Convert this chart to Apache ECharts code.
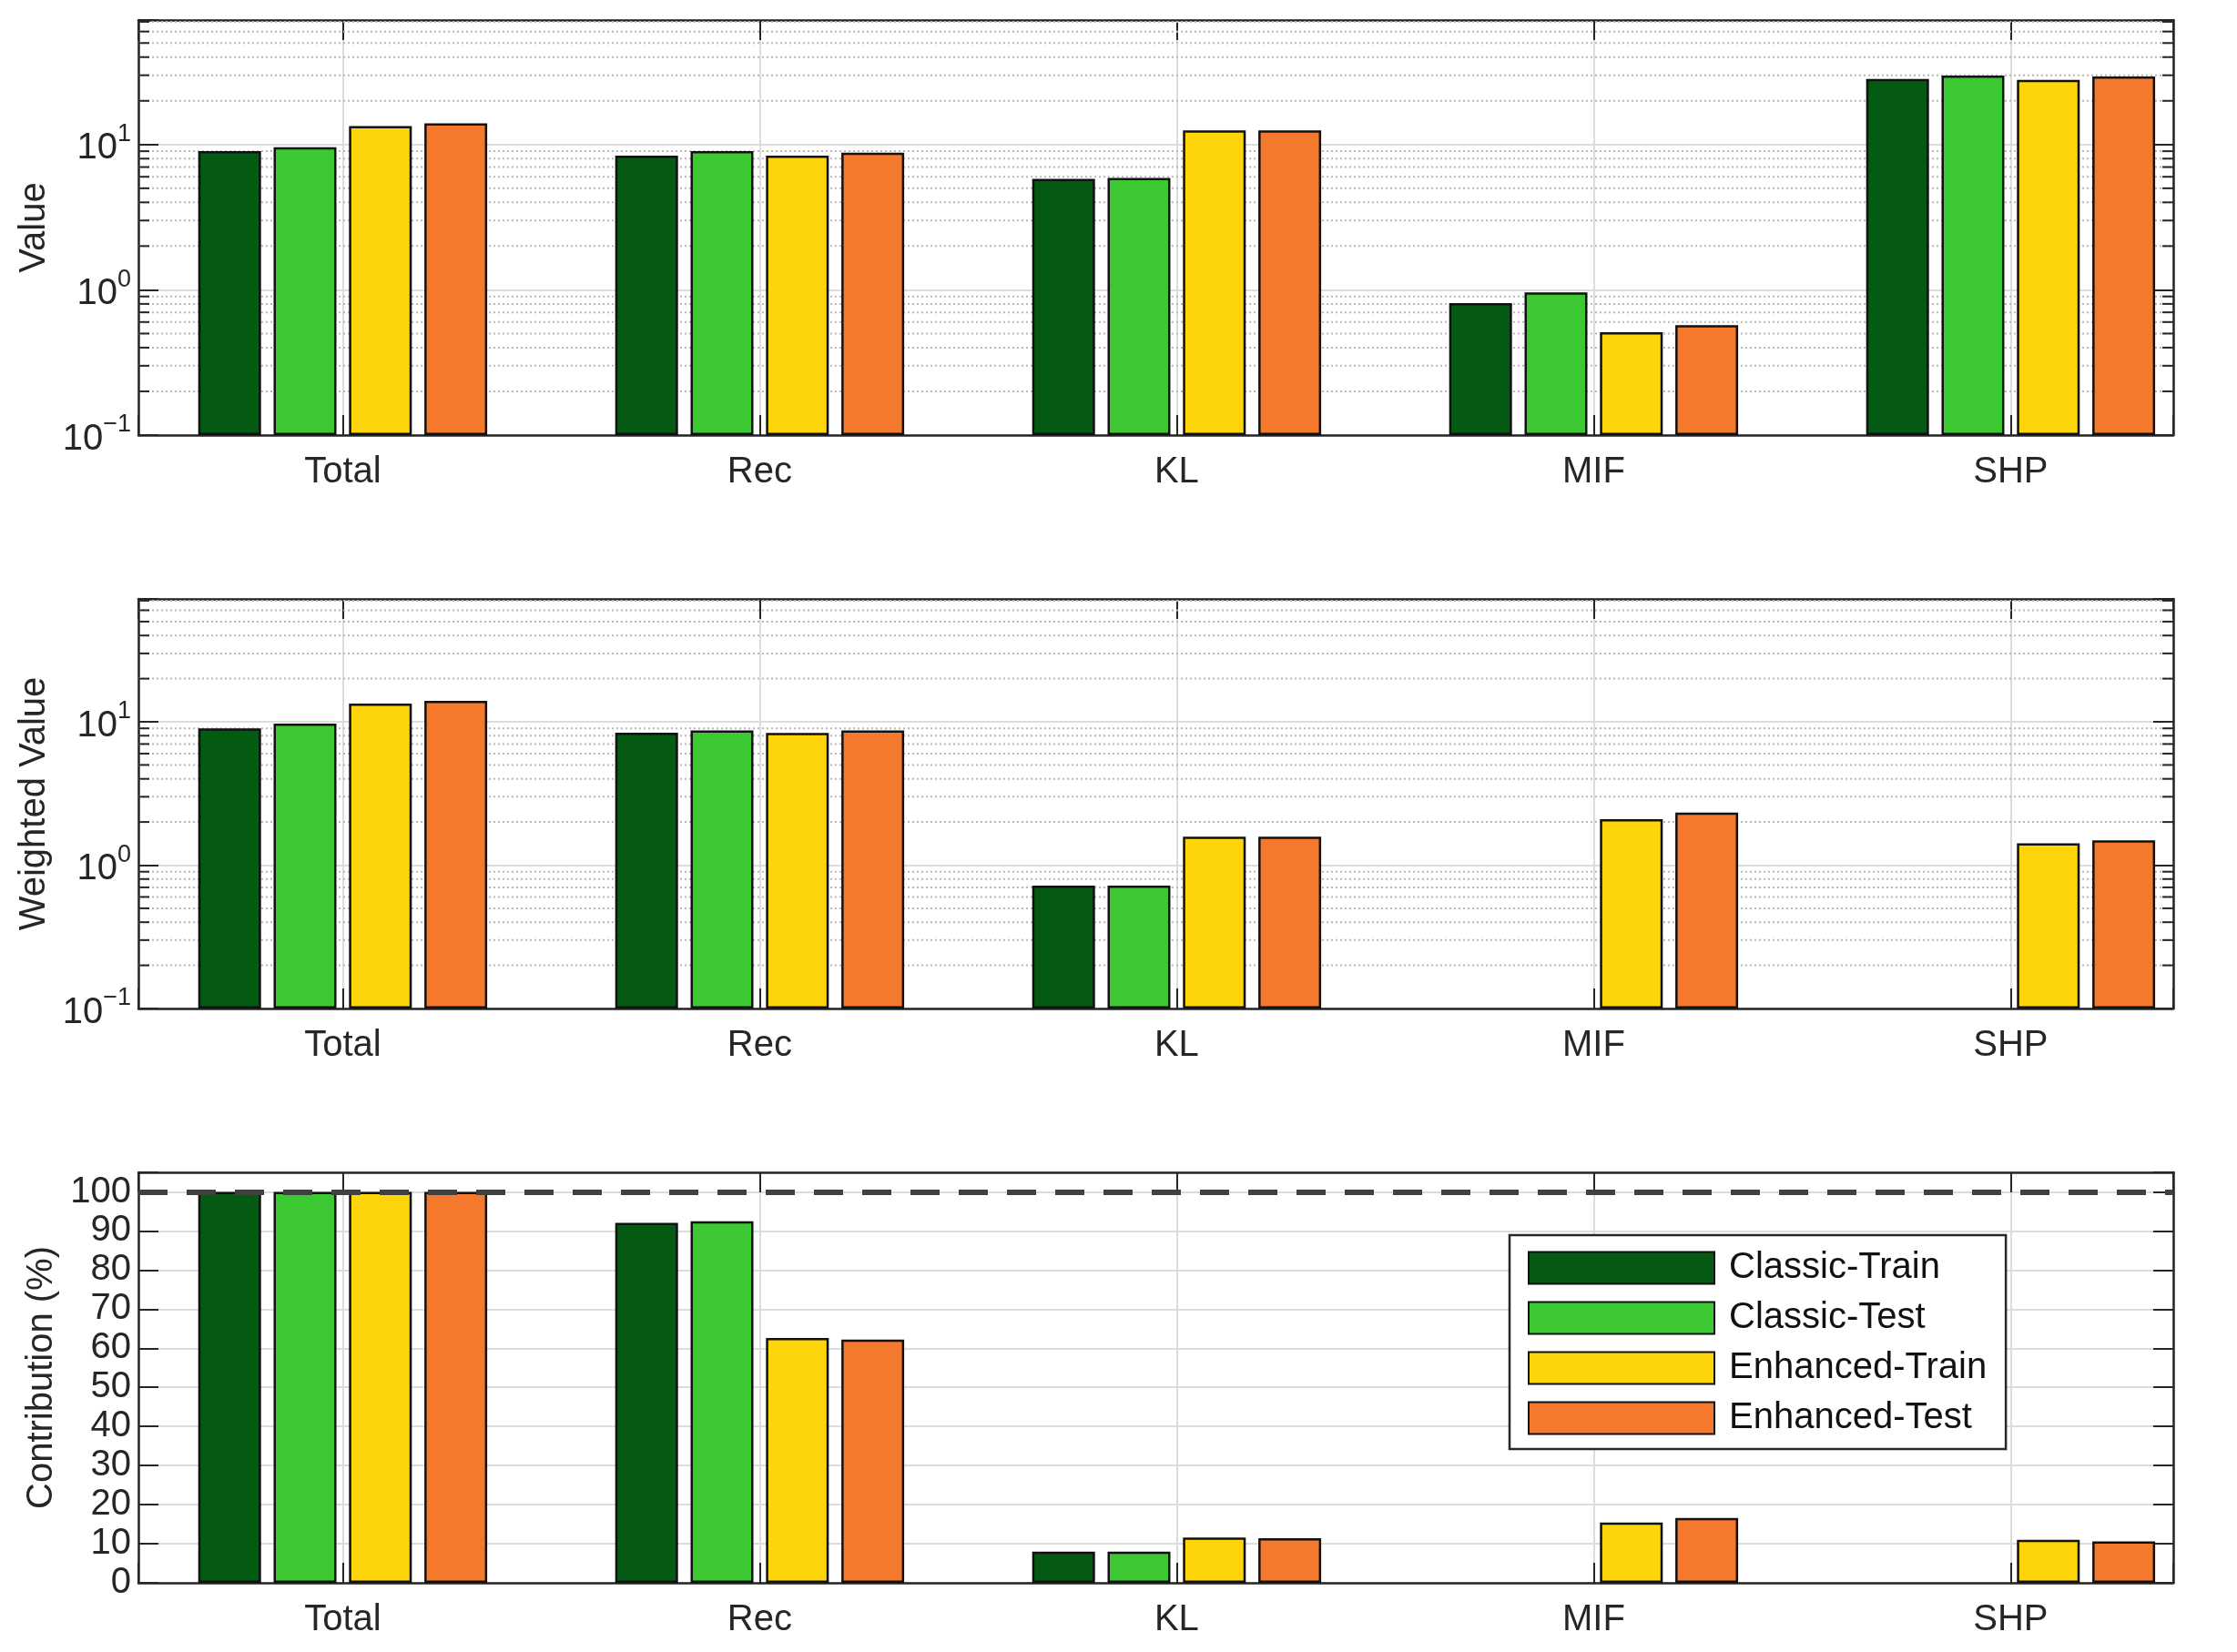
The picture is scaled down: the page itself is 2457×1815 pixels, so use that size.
<!DOCTYPE html>
<html>
<head>
<meta charset="utf-8">
<script src="https://cdn.jsdelivr.net/npm/echarts@6/dist/echarts.min.js"></script>
<style>
  html, body { margin: 0; padding: 0; background: #fff; }
  #main { width: 2457px; height: 1815px; }
</style>
</head>
<body>
<div id="main"></div>
<script>
// categories and series names
var categories = ['Total', 'Rec', 'KL', 'MIF', 'SHP'];
var seriesNames = ['Classic-Train', 'Classic-Test', 'Enhanced-Train', 'Enhanced-Test'];
var colors = ['#045a13', '#3cc832', '#fdd50a', '#f4792c'];

// panel 1: raw loss values (log axis)
var valClassicTrain  = [9.0, 8.4, 5.8, 0.81, 28.3];
var valClassicTest   = [9.6, 9.0, 5.9, 0.96, 29.9];
var valEnhancedTrain = [13.4, 8.4, 12.5, 0.51, 27.9];
var valEnhancedTest  = [14.0, 8.8, 12.5, 0.57, 29.4];

// panel 2: weighted values (log axis)
var wClassicTrain  = [9.0, 8.4, 0.72, null, null];
var wClassicTest   = [9.7, 8.7, 0.72, null, null];
var wEnhancedTrain = [13.4, 8.35, 1.58, 2.09, 1.42];
var wEnhancedTest  = [14.0, 8.7, 1.58, 2.33, 1.49];

// panel 3: contribution (%)
var cClassicTrain  = [100, 92.1, 8.0, null, null];
var cClassicTest   = [100, 92.5, 8.0, null, null];
var cEnhancedTrain = [100, 62.6, 11.6, 15.4, 11.0];
var cEnhancedTest  = [100, 62.2, 11.4, 16.6, 10.6];

// axis ranges / ticks
var xMin = 0.51, xMax = 5.39;          // categories sit at 1..5
var logMin = 0.1, logMax = 72;
var pctMin = 0, pctMax = 105, pctStep = 10;
var minorLogTicks = [];
[0.1, 1, 10].forEach(function (d) {
  for (var k = 2; k <= 9; k++) {
    if (k * d < logMax) minorLogTicks.push(+(k * d).toFixed(2));
  }
});

var FONT = "'Liberation Sans', Arial, Helvetica, sans-serif";
var TXT = '#262626';
var AXIS = '#262626';

var grids = [
  { left: 152, right: 70, top: 22, height: 456 },
  { left: 152, right: 70, top: 658, height: 450 },
  { left: 152, right: 70, top: 1288, height: 451 }
];

function logLabel(v) {
  var e = Math.log10(v);
  if (Math.abs(e - Math.round(e)) > 1e-6) return '';
  e = Math.round(e);
  return '{b|10}{sup|' + (e < 0 ? '\u2212' + (-e) : e) + '}';
}

function catLabel(v) {
  var k = Math.round(v);
  if (Math.abs(v - k) > 1e-6 || k < 1 || k > categories.length) return '';
  return categories[k - 1];
}

var xAxes = [], yAxes = [], series = [];

grids.forEach(function (g, i) {
  var base = {
    type: 'value', gridIndex: i, min: xMin, max: xMax,
    minInterval: 1, maxInterval: 1,
    axisLine: { show: true, onZero: false, lineStyle: { color: AXIS, width: 2.5 } },
    axisTick: { show: true, inside: true, length: 22, lineStyle: { color: AXIS, width: 2 } }
  };
  xAxes.push(Object.assign({}, base, {
    position: 'bottom',
    axisLabel: { fontSize: 40, fontFamily: FONT, color: TXT, margin: 21, formatter: catLabel },
    splitLine: { show: true, lineStyle: { color: '#dcdcdc', width: 2 } }
  }));
  xAxes.push(Object.assign({}, base, {
    position: 'top',
    axisLabel: { show: false },
    splitLine: { show: false }
  }));
});

var yNames = ['Value', 'Weighted Value', 'Contribution (%)'];
var yGaps = [87, 87, 79];

grids.forEach(function (g, i) {
  var isLog = i < 2;
  var base = {
    gridIndex: i,
    axisLine: { show: true, onZero: false, lineStyle: { color: AXIS, width: 2.5 } },
    axisTick: { inside: true, length: 22, lineStyle: { color: AXIS, width: 2 } }
  };
  if (isLog) {
    base.type = 'log';
    base.logBase = 10;
    base.min = logMin;
    base.max = logMax;
    base.startValue = logMin;
  } else {
    base.type = 'value';
    base.min = pctMin;
    base.max = pctMax;
    base.interval = pctStep;
  }
  var left = Object.assign({}, base, {
    position: 'left',
    name: yNames[i], nameLocation: 'middle', nameGap: yGaps[i], nameRotate: 90,
    nameTextStyle: { fontSize: 40, fontFamily: FONT, color: TXT },
    splitLine: { show: true, lineStyle: { color: '#dcdcdc', width: 2 } },
    axisLabel: isLog ? {
      formatter: logLabel, margin: 8, color: TXT, fontFamily: FONT,
      rich: {
        b: { fontSize: 40, fontFamily: FONT, color: TXT, verticalAlign: 'bottom', padding: [9, 0, 0, 0] },
        sup: { fontSize: 27, fontFamily: FONT, color: TXT, verticalAlign: 'top' }
      }
    } : {
      fontSize: 40, fontFamily: FONT, color: TXT, margin: 8,
      formatter: function (v) { return v % pctStep === 0 ? String(v) : ''; }
    }
  });
  var right = Object.assign({}, base, {
    position: 'right',
    splitLine: { show: false },
    axisLabel: { show: false }
  });
  yAxes.push(left, right);
});

var panelData = [
  [valClassicTrain, valClassicTest, valEnhancedTrain, valEnhancedTest],
  [wClassicTrain, wClassicTest, wEnhancedTrain, wEnhancedTest],
  [cClassicTrain, cClassicTest, cEnhancedTrain, cEnhancedTest]
];

panelData.forEach(function (sets, i) {
  sets.forEach(function (arr, j) {
    var s = {
      name: seriesNames[j], type: 'bar',
      xAxisIndex: 2 * i, yAxisIndex: 2 * i,
      data: arr.map(function (v, k) { return [k + 1, v]; }),
      barWidth: 69, barGap: '20%',
      z: 3,
      itemStyle: { color: colors[j], borderColor: '#111', borderWidth: 2.5 },
      animation: false
    };
    if (i === 2 && j === 3) {
      // 100% reference line
      s.markLine = {
        silent: true, symbol: ['none', 'none'], label: { show: false },
        animation: false,
        data: [{ yAxis: 100, lineStyle: { color: '#404040', width: 6, type: [32, 21] } }]
      };
    }
    series.push(s);
  });
  // minor log grid + minor ticks for the log panels
  if (i < 2) {
    series.push({
      type: 'custom', xAxisIndex: 2 * i, yAxisIndex: 2 * i, z: 1,
      silent: true, animation: false, clip: false,
      data: minorLogTicks.map(function (v) { return [1, v]; }),
      renderItem: function (params, api) {
        var y = api.coord([1, api.value(1)])[1];
        var cs = params.coordSys;
        return {
          type: 'group',
          children: [
            { type: 'line', shape: { x1: cs.x, y1: y, x2: cs.x + cs.width, y2: y },
              style: { stroke: '#b8b8b8', lineWidth: 2, lineDash: [2, 3] } },
            { type: 'line', shape: { x1: cs.x, y1: y, x2: cs.x + 12, y2: y },
              style: { stroke: AXIS, lineWidth: 2 } },
            { type: 'line', shape: { x1: cs.x + cs.width - 12, y1: y, x2: cs.x + cs.width, y2: y },
              style: { stroke: AXIS, lineWidth: 2 } }
          ]
        };
      }
    });
  }
});

var chart = echarts.init(document.getElementById('main'));
chart.setOption({
  backgroundColor: '#fff',
  animation: false,
  grid: grids,
  xAxis: xAxes,
  yAxis: yAxes,
  legend: {
    data: seriesNames,
    orient: 'vertical',
    left: 1658, top: 1357,
    icon: 'rect',
    itemWidth: 204, itemHeight: 35, itemGap: 15,
    padding: [16, 21, 14, 20],
    backgroundColor: '#fff',
    borderColor: '#262626', borderWidth: 2.5,
    textStyle: { fontSize: 40, fontFamily: FONT, color: '#111', padding: [0, 0, 0, 11] },
    selectedMode: false
  },
  series: series
});
</script>
</body>
</html>
